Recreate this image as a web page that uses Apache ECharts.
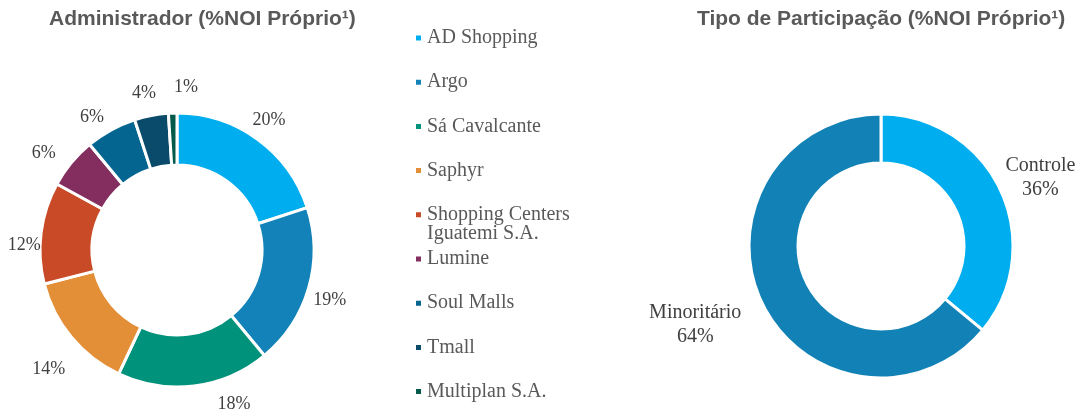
<!DOCTYPE html>
<html><head><meta charset="utf-8">
<script src="https://cdn.jsdelivr.net/npm/echarts@6/dist/echarts.min.js"></script>
<style>html,body{margin:0;padding:0;background:#fff}#c{width:1088px;height:412px}</style>
</head><body><div id="c"></div>
<script>
const adminNames = ['AD Shopping','Argo','Sá Cavalcante','Saphyr','Shopping Centers Iguatemi S.A.','Lumine','Soul Malls','Tmall','Multiplan S.A.'];
const adminValues = [20,19,18,14,12,6,6,4,1];
const adminColors = ['#00AEEF','#1282B8','#00927A','#E38F38','#C84A26','#832E5E','#036590','#0A4A6A','#045A4A'];
const partNames = ['Controle','Minoritário'];
const partValues = [36,64];
const partColors = ['#00AEEF','#1282B6'];
const titles = ['Administrador (%NOI Próprio¹)','Tipo de Participação (%NOI Próprio¹)'];

// label placement styling (Excel-like best-fit nudges), not data
const adminLabelNudge = [[-2,0],[-1,6],[37,-4],[-5,17],[6,15],[-10,5],[-8,7],[-3,0],[14,-3]];
const partLabelDist = [42,70];
const partLabelNudge = [[2,6],[-3,-7]];

const serif = '"Liberation Serif", serif';
const chart = echarts.init(document.getElementById('c'));
chart.setOption({
  animation:false,
  title:[
    {text:titles[0], left:49, top:9, padding:0, textStyle:{fontFamily:'"Liberation Sans", Arial', fontWeight:'bold', fontSize:21, color:'#595959'}},
    {text:titles[1], left:697, top:9, padding:0, textStyle:{fontFamily:'"Liberation Sans", Arial', fontWeight:'bold', fontSize:21, color:'#595959'}}
  ],
  legend:{
    orient:'vertical', left:414, top:28, height:390, padding:0,
    itemWidth:7, itemHeight:7, itemGap:24.2, icon:'rect',
    data:adminNames,
    formatter:n=> n==='Shopping Centers Iguatemi S.A.' ? 'Shopping Centers' : n,
    textStyle:{fontFamily:serif, fontSize:20, color:'#595959', lineHeight:20}
  },
  graphic:[
    {type:'text', left:427, top:224, silent:true, style:{text:'Iguatemi S.A.', font:'20px "Liberation Serif", serif', fill:'#595959'}}
  ],
  series:[
    {type:'pie', center:[177,250], radius:[85,137], startAngle:90, clockwise:true,
     avoidLabelOverlap:false, minShowLabelAngle:0,
     itemStyle:{borderColor:'#fff', borderWidth:3},
     label:{show:true, position:'outside', formatter:'{c}%', fontFamily:serif, fontSize:18, color:'#404040', distanceToLabelLine:0},
     labelLine:{show:false, length:23, length2:0},
     labelLayout:p=>({align:'center', verticalAlign:'middle', hideOverlap:false, dx:adminLabelNudge[p.dataIndex][0], dy:adminLabelNudge[p.dataIndex][1]}),
     emphasis:{disabled:true},
     data:adminNames.map((n,i)=>({name:n, value:adminValues[i], itemStyle:{color:adminColors[i]}}))},
    {type:'pie', center:[881,246], radius:[83,132], startAngle:90, clockwise:true,
     avoidLabelOverlap:false, minShowLabelAngle:0,
     itemStyle:{borderColor:'#fff', borderWidth:3},
     label:{show:true, position:'outside', formatter:'{b}\n{c}%', fontFamily:serif, fontSize:20, lineHeight:24, color:'#404040', distanceToLabelLine:0},
     labelLine:{show:false, length2:0},
     labelLayout:p=>({align:'center', verticalAlign:'middle', hideOverlap:false, dx:partLabelNudge[p.dataIndex][0], dy:partLabelNudge[p.dataIndex][1]}),
     emphasis:{disabled:true},
     data:partNames.map((n,i)=>({name:n, value:partValues[i], itemStyle:{color:partColors[i]}, labelLine:{length:partLabelDist[i], length2:0}}))}
  ]
});
</script></body></html>
